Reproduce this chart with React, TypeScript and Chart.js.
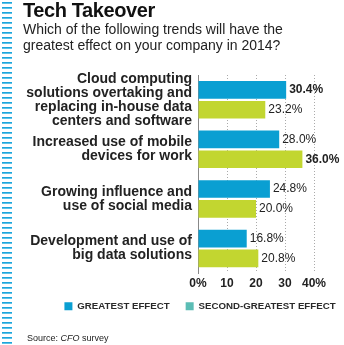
import React, { useEffect, useRef } from "react";
import { Chart, registerables } from "chart.js";

Chart.register(...registerables);

const categories: string[][] = [
  ["Cloud computing", "solutions overtaking and", "replacing in-house data", "centers and software"],
  ["Increased use of mobile", "devices for work"],
  ["Growing influence and", "use of social media"],
  ["Development and use of", "big data solutions"],
];
const greatestEffect: number[] = [30.4, 28.0, 24.8, 16.8];
const secondGreatestEffect: number[] = [23.2, 36.0, 20.0, 20.8];
const seriesNames: string[] = ["GREATEST EFFECT", "SECOND-GREATEST EFFECT"];
const xTickValues: number[] = [0, 10, 20, 30, 40];
const xTickLabels: string[] = ["0%", "10", "20", "30", "40%"];

const FONT = '"Liberation Sans", Arial, Helvetica, sans-serif';
const BAR_COLORS = ["#0a9fd2", "#c2d630"];
const LEGEND_COLORS = ["#0a9fd2", "#5bbdb5"];

const valueLabels = {
  id: "valueLabels",
  afterDatasetsDraw(chart: any) {
    const ctx = chart.ctx;
    chart.data.datasets.forEach((ds: any, i: number) => {
      const meta = chart.getDatasetMeta(i);
      const max = Math.max(...ds.data);
      meta.data.forEach((bar: any, j: number) => {
        const v = ds.data[j];
        ctx.save();
        ctx.font = `${v === max ? "bold " : ""}12px ${FONT}`;
        ctx.fillStyle = "#222";
        ctx.textAlign = "left";
        ctx.textBaseline = "middle";
        ctx.fillText(v.toFixed(1) + "%", bar.x + 3, bar.y);
        ctx.restore();
      });
    });
  },
};

export default function App() {
  const ref = useRef<HTMLCanvasElement | null>(null);

  useEffect(() => {
    document.body.style.margin = "0";
    if (!ref.current) return;
    const chart = new Chart(ref.current, {
      type: "bar",
      data: {
        labels: categories,
        datasets: [
          {
            label: seriesNames[0],
            data: greatestEffect,
            backgroundColor: BAR_COLORS[0],
            borderWidth: 0,
            categoryPercentage: 0.8,
            barPercentage: 0.89,
          },
          {
            label: seriesNames[1],
            data: secondGreatestEffect,
            backgroundColor: BAR_COLORS[1],
            borderWidth: 0,
            categoryPercentage: 0.8,
            barPercentage: 0.89,
          },
        ],
      },
      options: {
        indexAxis: "y",
        responsive: false,
        animation: false,
        devicePixelRatio: 1,
        layout: { padding: { top: 75, left: 0, right: -56, bottom: 24 } },
        scales: {
          x: {
            type: "linear",
            min: 0,
            max: 40,
            afterBuildTicks: (s: any) => {
              s.ticks = xTickValues.map((v) => ({ value: v }));
            },
            afterFit: (s: any) => {
              s.height = 12;
            },
            grid: { color: "#aaa", drawTicks: false, lineWidth: 1 },
            border: { display: false, dash: [1, 2] },
            ticks: {
              mirror: true,
              padding: -18,
              maxRotation: 0,
              minRotation: 0,
              color: "#222",
              font: { family: FONT, size: 12, weight: "bold" },
              callback: (v: any) => xTickLabels[xTickValues.indexOf(Number(v))],
            },
          },
          y: {
            type: "category",
            afterFit: (s: any) => {
              s.width = 198;
            },
            grid: { display: false, drawTicks: false },
            border: { display: true, color: "#888", width: 1 },
            ticks: {
              padding: 6,
              color: "#222",
              autoSkip: false,
              font: { family: FONT, size: 14, weight: "bold", lineHeight: 1 },
            },
          },
          yRight: {
            type: "linear",
            axis: "y",
            position: "right",
            display: true,
            grid: { display: false, drawTicks: false },
            border: { display: false },
            ticks: { display: false },
            afterFit: (s: any) => {
              s.width = 86;
            },
          },
        },
        plugins: {
          tooltip: { enabled: false },
          legend: {
            position: "bottom",
            align: "center",
            labels: {
              boxWidth: 8,
              boxHeight: 8,
              padding: 16,
              color: "#2a2a2a",
              font: { family: FONT, size: 9.7, weight: "bold" },
              generateLabels: (c: any) =>
                c.data.datasets.map((ds: any, i: number) => ({
                  text: ds.label,
                  fillStyle: LEGEND_COLORS[i],
                  strokeStyle: LEGEND_COLORS[i],
                  lineWidth: 0,
                  hidden: false,
                  datasetIndex: i,
                  fontColor: "#2a2a2a",
                })),
            },
          },
        },
      } as any,
      plugins: [valueLabels],
    });
    return () => chart.destroy();
  }, []);

  return (
    <div style={{ position: "relative", width: 344, height: 345, overflow: "hidden", background: "#fff" }}>
      <canvas ref={ref} width={344} height={345} style={{ position: "absolute", left: 0, top: 0 }} />
      <div
        style={{
          position: "absolute",
          left: 2,
          top: 2,
          width: 10,
          height: 343,
          background: "repeating-linear-gradient(to bottom, #1ea4da 0px, #1ea4da 1px, #5cc3e8 1px, #5cc3e8 2px, transparent 2px, transparent 5px)",
        }}
      />
      <div
        style={{
          position: "absolute",
          left: 23,
          top: 0,
          fontFamily: FONT,
          fontWeight: "bold",
          fontSize: 20,
          lineHeight: "20px",
          letterSpacing: "-0.4px",
          color: "#111",
          whiteSpace: "nowrap",
        }}
      >
        Tech Takeover
      </div>
      <div
        style={{
          position: "absolute",
          left: 23,
          top: 22,
          fontFamily: FONT,
          fontSize: 14,
          lineHeight: "15.5px",
          color: "#222",
          whiteSpace: "nowrap",
        }}
      >
        Which of the following trends will have the
        <br />
        greatest effect on your company in 2014?
      </div>
      <div
        style={{
          position: "absolute",
          left: 27,
          top: 333,
          fontFamily: FONT,
          fontSize: 9,
          lineHeight: "10px",
          color: "#222",
          whiteSpace: "nowrap",
        }}
      >
        Source: <i>CFO</i> survey
      </div>
    </div>
  );
}
